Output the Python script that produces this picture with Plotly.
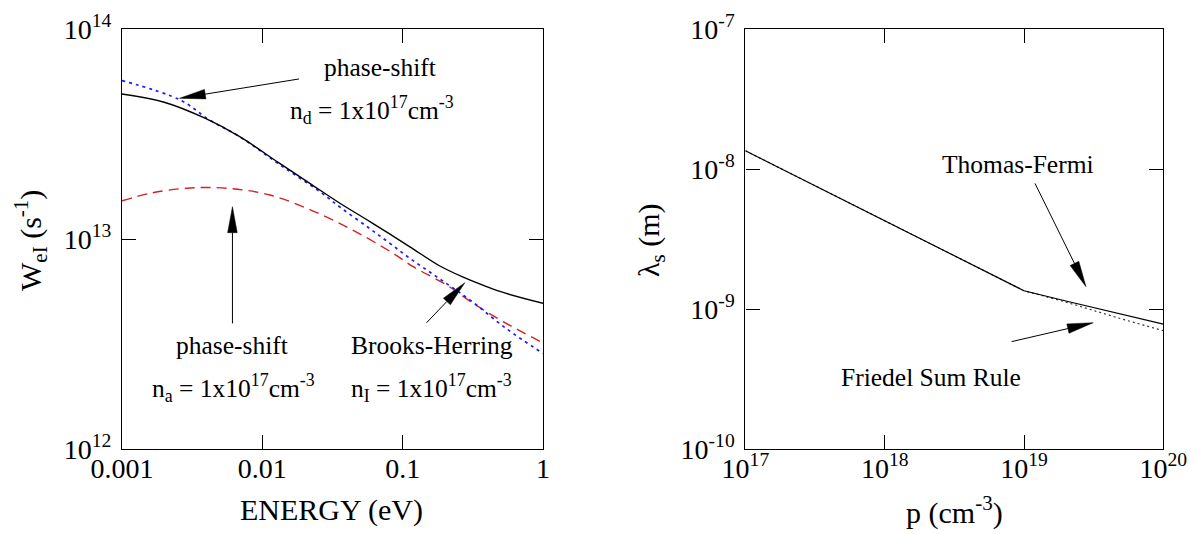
import math
import plotly.graph_objects as go

# ---------------- data ----------------
# Left panel: scattering rate W_eI vs energy
energy_ps_d = [0.001, 0.002, 0.0039, 0.0069, 0.0133, 0.0218, 0.0357, 0.0584, 0.1125,
               0.18, 0.27, 0.4, 0.54, 1.0]
w_ps_d = [4.90e13, 4.48e13, 3.76e13, 3.07e13, 2.29e13, 1.84e13, 1.48e13, 1.21e13,
          9.18e12, 7.50e12, 6.58e12, 5.92e12, 5.52e12, 4.94e12]

energy_bh = [0.001, 0.0026, 0.0042, 0.0069, 0.0133, 0.0257, 0.0367, 0.0584, 0.0811,
             0.1125, 0.174, 0.301, 0.543, 1.0]
w_bh = [5.68e13, 4.59e13, 3.69e13, 3.07e13, 2.26e13, 1.68e13, 1.40e13, 1.12e13,
        9.53e12, 8.09e12, 6.62e12, 5.13e12, 3.76e12, 2.85e12]

energy_ps_a = [0.001, 0.00158, 0.00305, 0.00588, 0.0113, 0.0224, 0.0444, 0.0855,
               0.119, 0.2056, 0.318, 0.52, 1.0]
w_ps_a = [1.52e13, 1.65e13, 1.75e13, 1.74e13, 1.62e13, 1.37e13, 1.10e13, 8.55e12,
          7.38e12, 6.04e12, 4.94e12, 4.04e12, 3.20e12]

# Right panel: screening length vs hole density
p_tf = [1e17, 1e18, 1e19, 2e19, 5e19, 1e20]
lam_tf = [1.35e-8, 4.27e-9, 1.35e-9, 1.14e-9, 9.2e-10, 7.8e-10]

p_fsr = [1e17, 1e18, 1e19, 2e19, 5e19, 1e20]
lam_fsr = [1.35e-8, 4.27e-9, 1.35e-9, 1.12e-9, 8.5e-10, 7.0e-10]

left_xticks = [0.001, 0.01, 0.1, 1]
left_xtext = ["0.001", "0.01", "0.1", "1"]
left_yticks = [1e12, 1e13, 1e14]
left_ytext = ["10<sup>12</sup>", "10<sup>13</sup>", "10<sup>14</sup>"]
right_xticks = [1e17, 1e18, 1e19, 1e20]
right_xtext = ["10<sup>17</sup>", "10<sup>18</sup>", "10<sup>19</sup>", "10<sup>20</sup>"]
right_yticks = [1e-10, 1e-9, 1e-8, 1e-7]
right_ytext = ["10<sup>-10</sup>", "10<sup>-9</sup>", "10<sup>-8</sup>", "10<sup>-7</sup>"]

# ---------------- layout geometry (reference pixels) ----------------
W, H = 1199, 534
OFF = 8  # page body margin
FONT = "Liberation Serif, Times New Roman, serif"
L_px = (122, 543)
R_px = (745.4, 1163.3)
Y_px = (29, 449)
L_xr, L_yr = (-3, 0), (12, 14)
R_xr, R_yr = (17, 20), (-10, -7)

def fx(px):
    return (px - OFF) / W

def fy(py):
    return 1 - (py - OFF) / H

dom_y = [fy(Y_px[1]), fy(Y_px[0])]

fig = go.Figure()
fig.add_trace(go.Scatter(x=energy_ps_a, y=w_ps_a, mode="lines", line_shape="spline",
                         line=dict(color="#d62020", width=1.4, dash="10px,6px"),
                         xaxis="x", yaxis="y"))
fig.add_trace(go.Scatter(x=energy_bh, y=w_bh, mode="lines", line_shape="spline",
                         line=dict(color="#1a1aff", width=1.7, dash="3px,4px"),
                         xaxis="x", yaxis="y"))
fig.add_trace(go.Scatter(x=energy_ps_d, y=w_ps_d, mode="lines", line_shape="spline",
                         line=dict(color="black", width=1.4),
                         xaxis="x", yaxis="y"))
fig.add_trace(go.Scatter(x=p_fsr, y=lam_fsr, mode="lines",
                         line=dict(color="#333333", width=1.2, dash="2px,3px"),
                         xaxis="x2", yaxis="y2"))
fig.add_trace(go.Scatter(x=p_tf, y=lam_tf, mode="lines",
                         line=dict(color="black", width=1.2),
                         xaxis="x2", yaxis="y2"))

axis_common = dict(type="log", showgrid=False, zeroline=False, showline=True,
                   linecolor="black", linewidth=1.2, mirror="ticks", ticks="inside",
                   ticklen=14, tickwidth=1, tickcolor="black", automargin=False,
                   tickfont=dict(family=FONT, size=28, color="black"))

fig.update_layout(
    width=W, height=H, margin=dict(l=0, r=0, t=0, b=0),
    paper_bgcolor="white", plot_bgcolor="white", showlegend=False,
    xaxis=dict(axis_common, domain=[fx(L_px[0]), fx(L_px[1])], range=list(L_xr), anchor="y",
               tickvals=left_xticks, ticktext=left_xtext, ticklabelstandoff=-6),
    yaxis=dict(axis_common, domain=dom_y, range=list(L_yr), anchor="x",
               tickvals=left_yticks, ticktext=left_ytext, ticklabelstandoff=4),
    xaxis2=dict(axis_common, domain=[fx(R_px[0]), fx(R_px[1])], range=list(R_xr), anchor="y2",
                tickvals=right_xticks, ticktext=right_xtext, ticklabelstandoff=-6),
    yaxis2=dict(axis_common, domain=dom_y, range=list(R_yr), anchor="x2",
                tickvals=right_yticks, ticktext=right_ytext, ticklabelstandoff=4),
)

annots = []
def text(x, y, s, size=25.5, angle=0):
    annots.append(dict(x=fx(x), y=fy(y), xref="paper", yref="paper", text=s,
                       showarrow=False, textangle=angle, xanchor="center", yanchor="middle",
                       font=dict(family=FONT, size=size, color="black")))

# texts (pixel positions of reference)
text(380, 67, "phase-shift")
text(372, 110, "n<sub>d</sub> = 1x10<sup>17</sup>cm<sup>-3</sup>")
text(232, 345, "phase-shift")
text(233, 388, "n<sub>a</sub> = 1x10<sup>17</sup>cm<sup>-3</sup>")
text(432, 345, "Brooks-Herring")
text(431, 388, "n<sub>I</sub> = 1x10<sup>17</sup>cm<sup>-3</sup>")
text(1018, 164, "Thomas-Fermi")
text(931, 377, "Friedel Sum Rule")
text(331, 510, "ENERGY (eV)", size=30)
text(954, 510, "p (cm<sup>-3</sup>)", size=30)
text(30, 241, "W<sub>eI</sub> (s<sup>-1</sup>)", size=30, angle=-90)
text(651, 240, "λ<sub>s</sub> (m)", size=30, angle=-90)

# arrows defined in axis (log10) coordinates: (panel, tail, head)
arrows = [
    ("L", (-1.739, 13.762), (-2.590, 13.670)),
    ("L", (-2.213, 12.598), (-2.213, 13.154)),
    ("L", (-0.830, 12.601), (-0.557, 12.792)),
    ("R", (19.079, -8.103), (19.445, -8.841)),
    ("R", (18.911, -9.233), (19.497, -9.098)),
]

def to_px(panel, lx, ly):
    xp, xr, yr = (L_px, L_xr, L_yr) if panel == "L" else (R_px, R_xr, R_yr)
    px = xp[0] + (lx - xr[0]) / (xr[1] - xr[0]) * (xp[1] - xp[0])
    py = Y_px[1] - (ly - yr[0]) / (yr[1] - yr[0]) * (Y_px[1] - Y_px[0])
    return px, py

shapes = []
HL, HW = 26, 4.8
for panel, tail, head in arrows:
    tx, ty = to_px(panel, *tail)
    hx, hy = to_px(panel, *head)
    d = math.hypot(hx - tx, hy - ty)
    ux, uy = (hx - tx) / d, (hy - ty) / d
    bx, by = hx - ux * HL, hy - uy * HL
    nx, ny = -uy, ux
    P = lambda x, y: f"{fx(x):.5f},{fy(y):.5f}"
    shapes.append(dict(type="line", xref="paper", yref="paper",
                       x0=fx(tx), y0=fy(ty), x1=fx(bx), y1=fy(by),
                       line=dict(color="black", width=1)))
    shapes.append(dict(type="path", xref="paper", yref="paper",
                       path=f"M{P(hx, hy)} L{P(bx + nx * HW, by + ny * HW)} L{P(bx - nx * HW, by - ny * HW)} Z",
                       fillcolor="black", line=dict(color="black", width=0.5)))

fig.update_layout(annotations=annots, shapes=shapes)
fig.write_html("out.html")
